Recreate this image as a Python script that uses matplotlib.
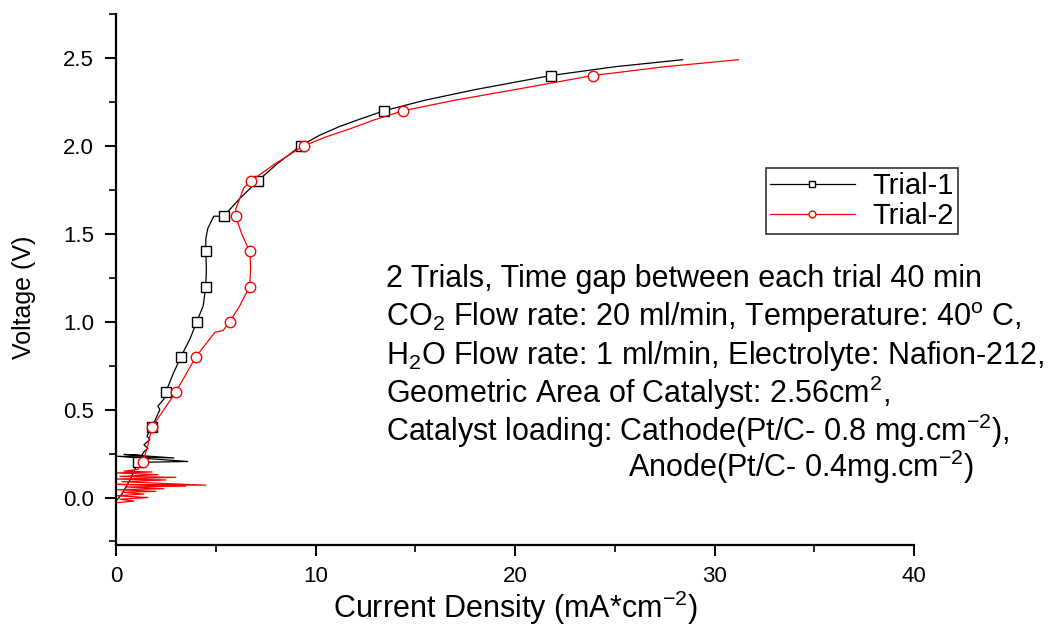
import numpy as np
import matplotlib.pyplot as plt
from matplotlib.ticker import MultipleLocator

plt.rcParams['font.family'] = ['Liberation Sans', 'DejaVu Sans']
plt.rcParams['mathtext.fontset'] = 'custom'
plt.rcParams['mathtext.rm'] = 'Liberation Sans'

# Trial-1 (current density mA/cm2, voltage V)
t1_j = [0.0, 0.3, 0.5, 0.7, 0.9, 1.1, 3.6, 0.0, 2.9, 0.4, 1.3, 1.4, 1.6, 1.4, 1.7, 1.55, 1.8,
        2.0, 2.2, 2.1, 2.4, 2.5, 2.85, 3.25, 3.7, 4.05, 4.37, 4.5, 4.53, 4.5, 4.5, 4.6,
        4.9, 5.4, 6.2, 7.1, 8.1, 9.25, 10.2, 11.2, 12.3, 13.45, 15.5, 18.0, 21.8, 25.0, 28.4]
t1_v = [-0.02, 0.02, 0.06, 0.1, 0.15, 0.2, 0.205, 0.235, 0.225, 0.245, 0.24, 0.26, 0.28, 0.3, 0.33, 0.35, 0.4,
        0.45, 0.5, 0.52, 0.56, 0.6, 0.7, 0.8, 0.9, 1.0, 1.09, 1.2, 1.3, 1.4, 1.47, 1.53,
        1.6, 1.6, 1.7, 1.8, 1.9, 2.0, 2.06, 2.11, 2.155, 2.2, 2.26, 2.32, 2.4, 2.45, 2.49]

# Trial-2
t2_j = [0.0, 0.9, 0.2, 1.6, 0.0, 1.4, 0.3, 2.0, 0.0, 2.4, 0.5, 3.5, 0.0, 4.5, 0.3, 2.5, 0.0, 3.0,
        0.2, 2.1, 0.0, 1.8, 0.4, 1.1, 1.35, 1.6, 1.8, 2.4, 3.0, 3.5, 4.0, 4.96, 5.37, 5.7, 6.2, 6.7, 6.75,
        6.7, 6.3, 6.0, 6.0, 6.4, 6.75, 8.0, 9.4, 10.5, 11.8, 13.0, 14.4, 17.0, 20.0, 23.9, 27.5, 31.2]
t2_v = [-0.03, -0.02, -0.01, 0.0, 0.01, 0.02, 0.03, 0.035, 0.045, 0.05, 0.06, 0.065, 0.075, 0.07, 0.09, 0.1, 0.105, 0.115,
        0.12, 0.13, 0.14, 0.145, 0.15, 0.16, 0.2, 0.3, 0.4, 0.5, 0.6, 0.7, 0.8, 0.94, 0.95, 1.0, 1.09, 1.2, 1.31,
        1.4, 1.5, 1.6, 1.64, 1.76, 1.8, 1.9, 2.0, 2.05, 2.1, 2.15, 2.2, 2.26, 2.32, 2.4, 2.45, 2.49]

mark_v = [0.2, 0.4, 0.6, 0.8, 1.0, 1.2, 1.4, 1.6, 1.8, 2.0, 2.2, 2.4]

notes = ['2 Trials, Time gap between each trial 40 min',
         r'CO$_2$ Flow rate: 20 ml/min, Temperature: 40$^\mathregular{o}$ C,',
         r'H$_2$O Flow rate: 1 ml/min, Electrolyte: Nafion-212,',
         r'Geometric Area of Catalyst: 2.56cm$^2$,',
         r'Catalyst loading: Cathode(Pt/C- 0.8 mg.cm$^{-2}$),',
         r'Anode(Pt/C- 0.4mg.cm$^{-2}$)']


def marks(v):
    # one marker every 0.2 V, like the original plot
    v = np.array(v)
    idx = []
    for m in mark_v:
        hit = np.where(np.isclose(v, m))[0]
        idx.append(int(hit[-1]))
    return idx


fig = plt.figure(figsize=(10.54, 6.29), dpi=100)
ax = fig.add_axes([116/1054, 1-545/629, 798/1054, 531/629])

ax.plot(t1_j, t1_v, color='black', lw=0.9, marker='s', ms=7, mfc='white', mec='black',
        mew=1.0, markevery=marks(t1_v), label='Trial-1')
ax.plot(t2_j, t2_v, color='red', lw=0.9, marker='o', ms=7.5, mfc='white', mec='red',
        mew=1.0, markevery=marks(t2_v), label='Trial-2')

ax.set_xlim(0, 40)
ax.set_ylim(-0.27, 2.75)
ax.xaxis.set_major_locator(MultipleLocator(10))
ax.xaxis.set_minor_locator(MultipleLocator(5))
ax.yaxis.set_major_locator(MultipleLocator(0.5))
ax.yaxis.set_minor_locator(MultipleLocator(0.25))
ax.spines['top'].set_visible(False)
ax.spines['right'].set_visible(False)
ax.spines['left'].set_linewidth(1.6)
ax.spines['bottom'].set_linewidth(1.6)
ax.tick_params(which='major', length=8, width=1.4, labelsize=16)
ax.tick_params(axis='x', pad=7)
ax.tick_params(axis='y', pad=8)
ax.tick_params(which='minor', length=5, width=1.2)
ax.set_xlabel(r'Current Density (mA*cm$^{-2}$)', fontsize=22)
ax.set_ylabel('Voltage (V)', fontsize=18)
ax.xaxis.set_label_coords(0.501, -0.083)
ax.yaxis.set_label_coords(-0.10, 0.467)

leg = ax.legend(loc='upper right', bbox_to_anchor=(958/1054, 1-168/629), bbox_transform=fig.transFigure,
                fontsize=21, frameon=True, fancybox=False, handlelength=2.9, borderpad=0.15,
                labelspacing=0.05, handletextpad=0.6, borderaxespad=0)
leg.get_frame().set_edgecolor('black')
leg.get_frame().set_linewidth(1.2)
for h in leg.legend_handles:
    h.set_markersize(5)

base_y = [287, 326, 364, 403, 441, 477]
for i, s in enumerate(notes):
    x = 628 if i == 5 else 386
    fig.text(x/1054, 1-base_y[i]/629, s, fontsize=22, va='baseline', ha='left')

fig.savefig('out.png', dpi=100)
